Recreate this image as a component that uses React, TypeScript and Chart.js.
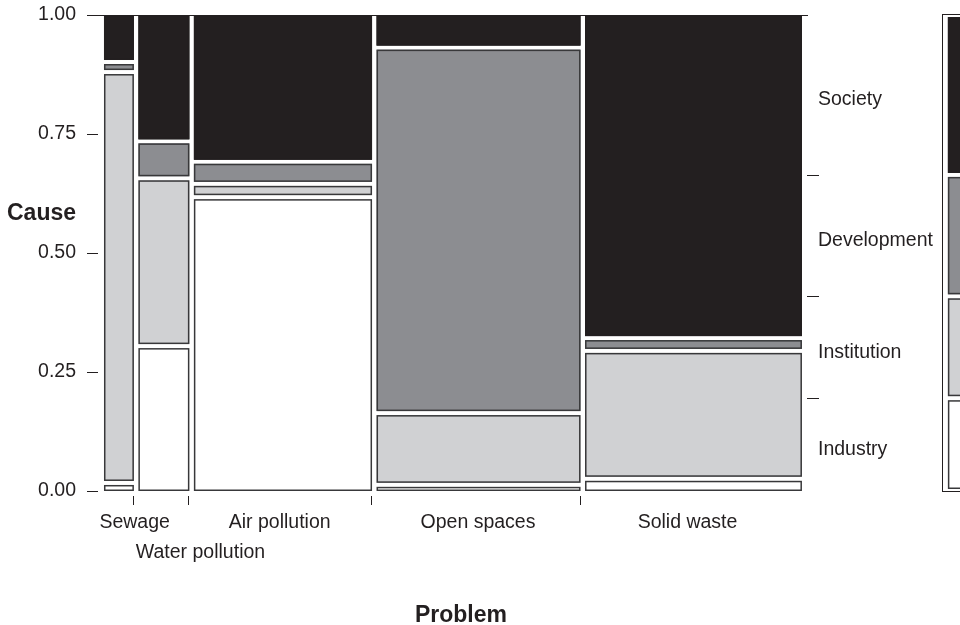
import React, { useEffect, useRef } from "react";
import { Chart, registerables } from "chart.js";

Chart.register(...registerables);

// ---- Data ----
const problems = ["Sewage", "Water pollution", "Air pollution", "Open spaces", "Solid waste"];
const problemShares = [4.4, 7.5, 26.2, 30.0, 31.9]; // % of all responses (column widths)
const causes = ["Industry", "Institution", "Development", "Society"]; // bottom → top
const industryShare = [0.013, 0.308, 0.629, 0.009, 0.022];
const institutionShare = [0.877, 0.353, 0.02, 0.146, 0.267];
const developmentShare = [0.013, 0.071, 0.039, 0.779, 0.019];
const societyShare = [0.097, 0.268, 0.312, 0.066, 0.692];
const causeMargin = [0.195, 0.214, 0.255, 0.336]; // marginal distribution of Cause
const yTickValues = [0, 0.25, 0.5, 0.75, 1];

// ---- Layout / style constants ----
const GAP_X = 0.66;
const X_MIN = -0.88;
const X_MAX = 103.53;
const GAP_Y = 0.0084;
const labelCenters = [4.51, 14.19, 25.84, 55.0, 85.81];
const labelRows = [0, 1, 0, 0, 0];
const MARGIN_FRAME_X = 123.2;
const MARGIN_BAR_X = 124.1;
const MARGIN_END_X = 140;
const causeColors = ["#ffffff", "#d0d1d3", "#8c8d91", "#231f20"];
const TEXT = "#231f20";
const EDGE = "#38383a";
const FONT = "'Liberation Sans', Arial, Helvetica, sans-serif";

const mosaicPlugin = {
  id: "mosaic",
  afterDraw(chart: any) {
    const { ctx, chartArea } = chart;
    const x = chart.scales.x;
    const y = chart.scales.y;
    const series = [industryShare, institutionShare, developmentShare, societyShare];
    ctx.save();

    // top line
    ctx.strokeStyle = TEXT;
    ctx.lineWidth = 1;
    ctx.beginPath();
    ctx.moveTo(chartArea.left - 11, Math.round(y.getPixelForValue(1)) + 0.5);
    ctx.lineTo(chartArea.right, Math.round(y.getPixelForValue(1)) + 0.5);
    ctx.stroke();

    // mosaic cells
    let cum = 0;
    const rightEdges: number[] = [];
    problemShares.forEach((w, i) => {
      const x0 = cum + i * GAP_X;
      const x1 = x0 + w;
      cum += w;
      const px0 = x.getPixelForValue(x0);
      const px1 = x.getPixelForValue(x1);
      rightEdges.push(px1);
      let cy = 0;
      series.forEach((s, j) => {
        const h = s[i] * (1 - 3 * GAP_Y);
        const y0 = cy + j * GAP_Y;
        const y1 = y0 + h;
        cy += h;
        const py0 = y.getPixelForValue(y0);
        const py1 = y.getPixelForValue(y1);
        ctx.fillStyle = causeColors[j];
        ctx.fillRect(px0, py1, px1 - px0, py0 - py1);
        ctx.strokeStyle = j === 3 ? TEXT : EDGE;
        ctx.lineWidth = 1.5;
        ctx.strokeRect(px0 + 0.75, py1 + 0.75, px1 - px0 - 1.5, Math.max(py0 - py1 - 1.5, 0.5));
      });
    });

    // x tick marks at column boundaries
    ctx.strokeStyle = TEXT;
    ctx.lineWidth = 1;
    const yb = y.getPixelForValue(0);
    rightEdges.slice(0, rightEdges.length - 1).forEach((px) => {
      const xx = Math.round(px) - 0.5;
      ctx.beginPath();
      ctx.moveTo(xx, yb + 5);
      ctx.lineTo(xx, yb + 14);
      ctx.stroke();
    });

    // x labels
    ctx.fillStyle = TEXT;
    ctx.font = `19.5px ${FONT}`;
    ctx.textAlign = "center";
    ctx.textBaseline = "alphabetic";
    problems.forEach((p, i) => {
      const px = x.getPixelForValue(labelCenters[i]);
      ctx.fillText(p, px, yb + 37 + labelRows[i] * 30);
    });

    // titles
    ctx.font = `bold 23px ${FONT}`;
    ctx.textAlign = "center";
    ctx.fillText("Problem", (x.getPixelForValue(0) + x.getPixelForValue(100 + 4 * GAP_X)) / 2 + 8, 622);
    ctx.textAlign = "left";
    ctx.fillText("Cause", 7, 220);

    // right axis: ticks and labels from marginal distribution
    const bounds = [0];
    causeMargin.forEach((m, j) => bounds.push(bounds[j] + m));
    ctx.font = `19.5px ${FONT}`;
    ctx.textAlign = "left";
    ctx.textBaseline = "middle";
    ctx.lineWidth = 1;
    for (let j = 1; j < bounds.length - 1; j++) {
      const py = Math.round(y.getPixelForValue(bounds[j])) + 0.5;
      ctx.beginPath();
      ctx.moveTo(chartArea.right - 1, py);
      ctx.lineTo(chartArea.right + 11, py);
      ctx.stroke();
    }
    causes.forEach((c, j) => {
      const mid = y.getPixelForValue((bounds[j] + bounds[j + 1]) / 2);
      ctx.fillText(c, chartArea.right + 10, mid + 5);
    });

    // marginal bar (partially visible at right)
    const fx = Math.round(x.getPixelForValue(MARGIN_FRAME_X)) + 0.5;
    const fEnd = x.getPixelForValue(MARGIN_END_X);
    const ftop = Math.round(y.getPixelForValue(1)) - 0.5;
    const fbot = Math.round(y.getPixelForValue(0)) + 0.5;
    ctx.strokeStyle = TEXT;
    ctx.strokeRect(fx, ftop, fEnd - fx, fbot - ftop);
    const bx = x.getPixelForValue(MARGIN_BAR_X);
    for (let j = 0; j < causeMargin.length; j++) {
      const pyLow = y.getPixelForValue(bounds[j]) - 2;
      const pyHigh = y.getPixelForValue(bounds[j + 1]) + 2;
      ctx.fillStyle = causeColors[j];
      ctx.fillRect(bx, pyHigh, fEnd - bx, pyLow - pyHigh);
      ctx.strokeStyle = j === 3 ? TEXT : EDGE;
      ctx.lineWidth = 1.5;
      ctx.strokeRect(bx + 0.75, pyHigh + 0.75, fEnd - bx, pyLow - pyHigh - 1.5);
    }

    ctx.restore();
  },
};

export default function App() {
  const ref = useRef<HTMLCanvasElement>(null);
  useEffect(() => {
    if (!ref.current) return;
    const chart = new Chart(ref.current, {
      type: "scatter",
      data: { datasets: [] },
      options: {
        animation: false,
        responsive: false,
        devicePixelRatio: 1,
        layout: { padding: { left: 0, top: 15, right: 152, bottom: 134 } },
        plugins: { legend: { display: false }, tooltip: { enabled: false } },
        scales: {
          x: { type: "linear", min: X_MIN, max: X_MAX, display: false },
          y: {
            type: "linear",
            min: 0,
            max: 1,
            afterFit: (s: any) => {
              s.width = 98;
              s.paddingTop = 0;
              s.paddingBottom = 0;
            },
            afterBuildTicks: (s: any) => {
              s.ticks = yTickValues.map((v) => ({ value: v }));
            },
            ticks: {
              callback: (v: any) => Number(v).toFixed(2),
              font: { family: FONT, size: 19.5 },
              color: TEXT,
              padding: 11,
            },
            grid: {
              drawOnChartArea: false,
              drawTicks: true,
              tickLength: 11,
              color: TEXT,
              lineWidth: 1,
            },
            border: { display: false },
          },
        },
      } as any,
      plugins: [mosaicPlugin],
    });
    return () => chart.destroy();
  }, []);
  return (
    <div style={{ position: "absolute", left: 0, top: 0, width: 960, height: 625, background: "#fff" }}>
      <canvas ref={ref} width={960} height={625} style={{ display: "block" }} />
    </div>
  );
}
